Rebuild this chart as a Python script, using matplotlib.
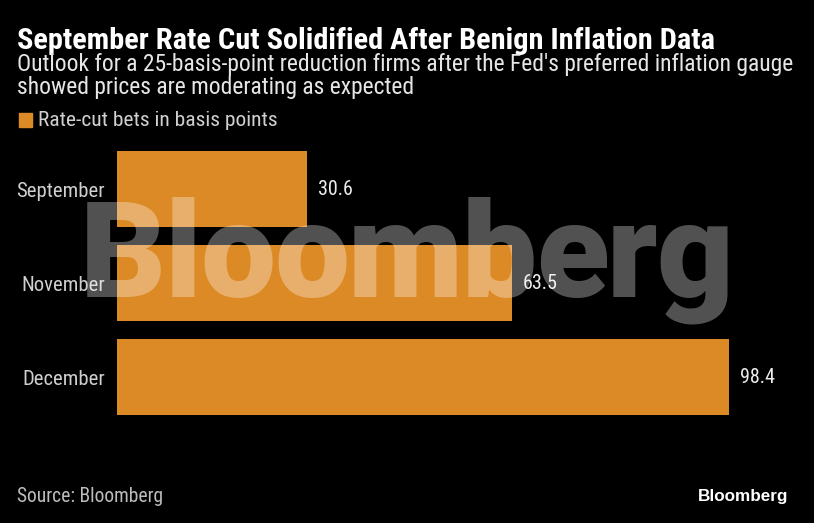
import os
import matplotlib
matplotlib.use("Agg")
import matplotlib.pyplot as plt
from matplotlib import font_manager
from matplotlib.font_manager import FontProperties
from matplotlib.textpath import TextPath, text_to_path

# Datos
months = ["September", "November", "December"]
bets = [30.6, 63.5, 98.4]
legend_label = "Rate-cut bets in basis points"
title = "September Rate Cut Solidified After Benign Inflation Data"
subtitle = ["Outlook for a 25-basis-point reduction firms after the Fed's preferred inflation gauge",
            "showed prices are moderating as expected"]
source = "Source: Bloomberg"
watermark = "Bloomberg"

W, H = 814, 523
BG = "#000000"
ORANGE = "#dc8a25"

WEIGHTS = {"black": 900, "heavy": 900, "extra bold": 800, "ultrabold": 800, "extrabold": 800,
           "bold": 700, "demibold": 600, "semibold": 600, "medium": 500, "normal": 400,
           "regular": 400, "book": 400, "light": 300, "ultralight": 200, "thin": 100}


def wnum(w):
    if isinstance(w, (int, float)):
        return int(w)
    return WEIGHTS.get(str(w).lower(), 400)


def pick(families, want_cond, weight_ok):
    ents = font_manager.fontManager.ttflist
    for fam in families:
        for f in ents:
            base = os.path.basename(f.fname).lower()
            if f.name != fam or "[" in base or "italic" in base or "oblique" in base:
                continue
            is_cond = "condensed" in base or "narrow" in base or str(f.stretch) != "normal"
            if is_cond != want_cond:
                continue
            if weight_ok(wnum(f.weight)):
                return FontProperties(fname=f.fname)
    return None


cond_fams = ["Liberation Sans Narrow", "Roboto Condensed", "Noto Sans", "Open Sans",
             "DejaVu Sans", "Roboto", "Liberation Sans"]
reg = pick(cond_fams, True, lambda w: w == 400) or FontProperties(family="Liberation Sans")
bold = pick(cond_fams, True, lambda w: w == 700) or FontProperties(family="Liberation Sans", weight="bold")
heavy = (pick(["Roboto", "Inter", "Noto Sans", "Lato", "Open Sans"], False, lambda w: w >= 800)
         or FontProperties(family="Liberation Sans", weight="bold"))
logo = FontProperties(family="Liberation Sans", weight="bold")

fig = plt.figure(figsize=(W / 100, H / 100), dpi=100, facecolor=BG)
renderer = fig.canvas.get_renderer()


def fx(x):
    return x / W


def fy(y):
    return 1 - y / H


def size_for(s, fp, width):
    t = fig.text(0, 0, s, fontproperties=fp, fontsize=20)
    w = t.get_window_extent(renderer).width
    t.remove()
    return 20 * width / w


def put(x, y, s, fp, width, color, ha="left", va="baseline", **kw):
    return fig.text(fx(x), fy(y), s, fontproperties=fp, fontsize=size_for(s, fp, width),
                    color=color, ha=ha, va=va, **kw)


# Ejes de barras (en pixeles del original)
left, right, top, bottom = 117, 790, 142, 424
ax = fig.add_axes([fx(left), fy(bottom), (right - left) / W, (bottom - top) / H])
ax.set_facecolor(BG)
ypos = list(range(len(months)))
ax.barh(ypos, bets, height=0.8, color=ORANGE)
ax.set_xlim(0, (right - left) / 6.22)
ax.set_ylim(len(months) - 0.5, -0.5)
ax.set_yticks(ypos)
tick_size = size_for("September", reg, 88)
ax.set_yticklabels(months, fontproperties=reg, fontsize=tick_size, color="#d0d0d0")
ax.tick_params(axis="y", length=0, pad=8.6)
ax.set_xticks([])
for s in ax.spines.values():
    s.set_visible(False)
val_size = size_for("30.6", reg, 35)
for y, v in zip(ypos, bets):
    ax.text(v + 1.7, y, f"{v}", va="center", ha="left", fontproperties=reg,
            fontsize=val_size, color="#ececec")

# Titulos
put(17, 49, title, bold, 695, "white")
sub_size = size_for(subtitle[0], reg, 776)
fig.text(fx(17), fy(71), subtitle[0], fontproperties=reg, fontsize=sub_size, color="#e6e6e6", va="baseline")
fig.text(fx(17), fy(94), subtitle[1], fontproperties=reg, fontsize=sub_size, color="#e6e6e6", va="baseline")

# Leyenda
fig.patches.append(plt.Rectangle((fx(19), fy(127)), 13 / W, 14 / H, color=ORANGE,
                                 transform=fig.transFigure, figure=fig))
put(38, 126, legend_label, reg, 240, "#d0d0d0")

# Pie
put(17, 502, source, reg, 146, "#bdbdbd")
put(788, 501, "Bloomberg", logo, 90, "white", ha="right")

# Marca de agua: letras sueltas con espaciado cerrado
capb = TextPath((0, 0), "B", prop=heavy, size=1).get_extents()
gext = TextPath((0, 0), "g", prop=heavy, size=1).get_extents()
em = 95 / capb.y1  # px por em
hp = heavy.copy()
hp.set_size(1)
adv = [text_to_path.get_text_width_height_descent(c, hp, ismath=False)[0] for c in watermark]
x0, x1, base = 87, 727, 297
natural = sum(adv[:-1]) * em + gext.x1 * em - capb.x0 * em
track = (x1 - x0 - natural) / (len(watermark) - 1)
pos = x0 - capb.x0 * em
for c, a in zip(watermark, adv):
    fig.text(fx(pos), fy(base), c, fontproperties=heavy, fontsize=em * 0.72,
             color="white", alpha=0.32, va="baseline", ha="left", zorder=10)
    pos += a * em + track

fig.savefig("out.png", dpi=100, facecolor=BG)
